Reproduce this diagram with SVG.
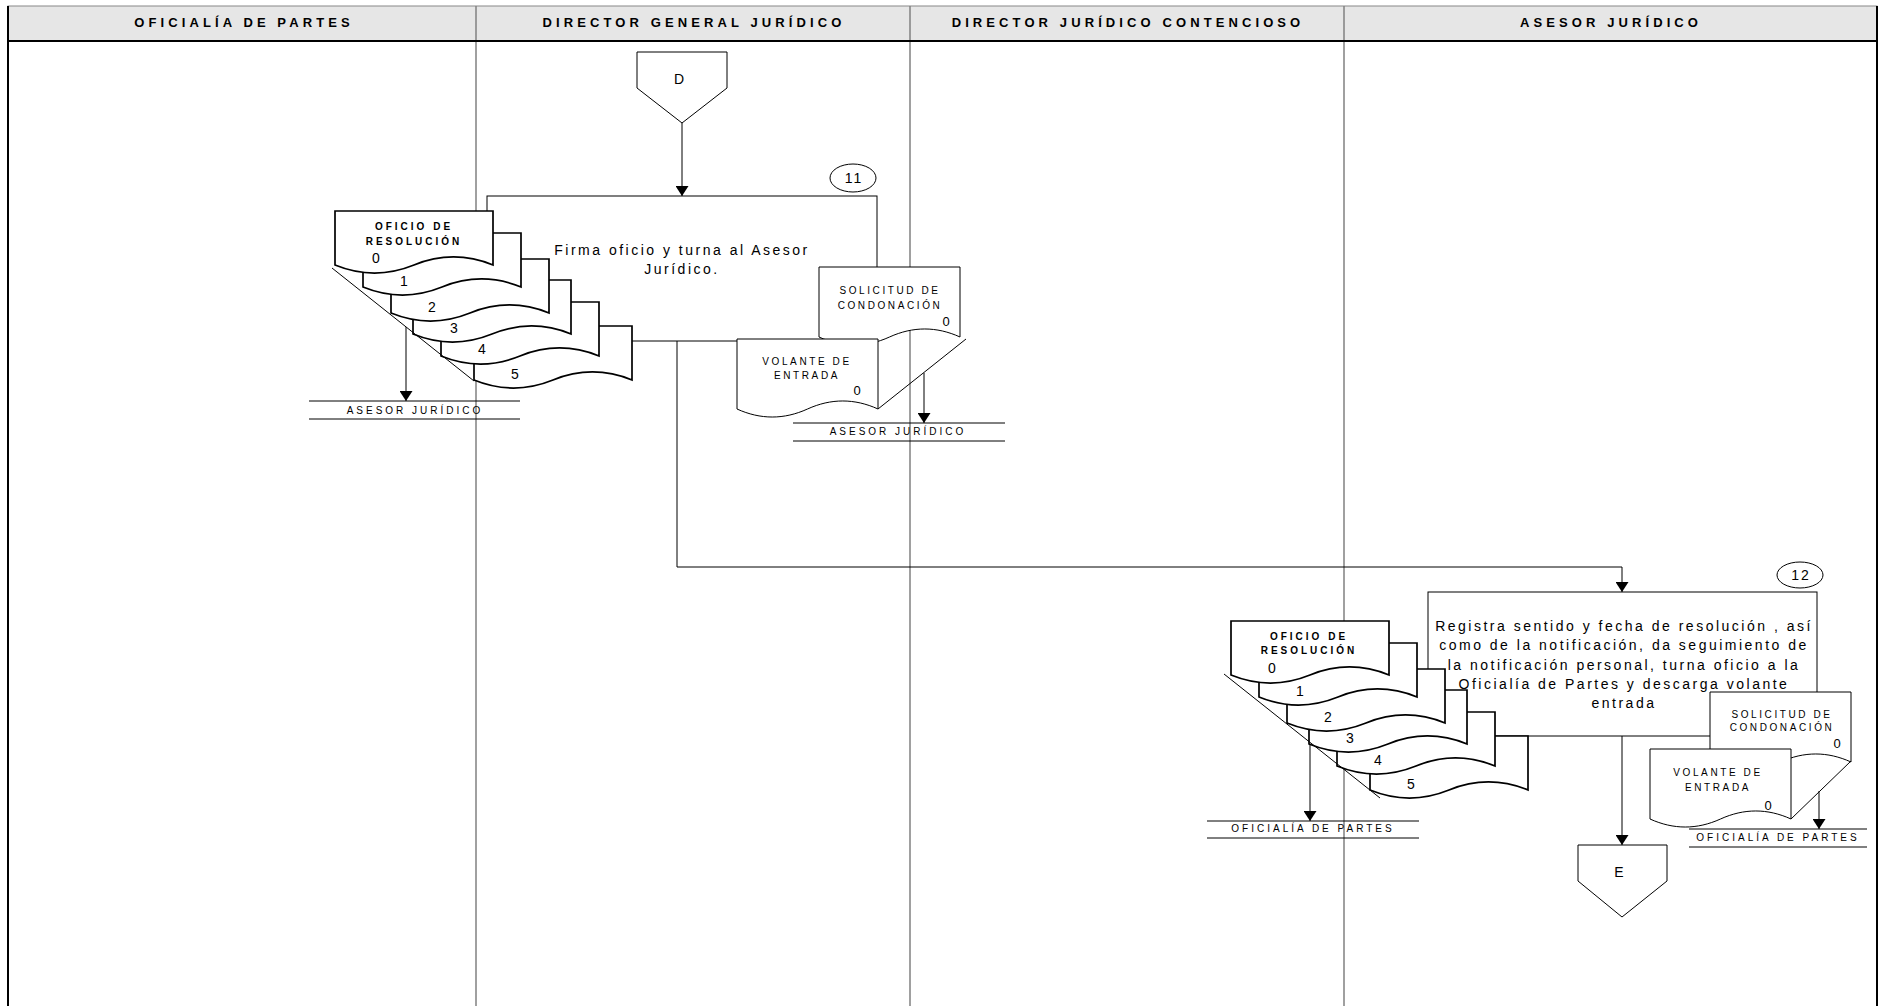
<svg xmlns="http://www.w3.org/2000/svg" width="1885" height="1006" viewBox="0 0 1885 1006">
<style>
text{font-family:"Liberation Sans",Arial,sans-serif;fill:#000}
.hd{font-size:13px;font-weight:bold;letter-spacing:4.1px;text-anchor:middle}
.lane{stroke:#808080;stroke-width:1.5;fill:none}
.box{fill:#fff;stroke:#000;stroke-width:1}
.doc{fill:#fff;stroke:#000;stroke-width:1.7}
.doc1{fill:#fff;stroke:#000;stroke-width:1}
.ln{stroke:#000;stroke-width:1;fill:none}
.task{font-size:14px;letter-spacing:2.5px;text-anchor:middle}
.dl{font-size:10px;font-weight:bold;letter-spacing:3px;text-anchor:middle}
.dr{font-size:10px;letter-spacing:2.6px;text-anchor:middle}
.num{font-size:14px;text-anchor:middle}
.num0{font-size:13px;text-anchor:middle}
.lab{font-size:10px;letter-spacing:3px;text-anchor:middle}
.cir{font-size:14px;letter-spacing:2px;text-anchor:middle}
.off{font-size:14px;text-anchor:middle}
.conn{stroke:#000;stroke-width:1;fill:none;marker-end:url(#arr)}
</style>
<defs>
<marker id="arr" viewBox="0 0 10 13" markerWidth="10" markerHeight="13" refX="10" refY="6.5" orient="auto" markerUnits="userSpaceOnUse">
<path d="M0,0 L10,6.5 L0,13 z" fill="#000"/>
</marker>
</defs>
<rect x="0" y="0" width="1885" height="1006" fill="#fff"/>
<g id="lanes">
<rect x="8" y="6" width="1869" height="35" fill="#e6e6e6" stroke="#888" stroke-width="1"/>
<line class="lane" x1="476" y1="6" x2="476" y2="1006"/>
<line class="lane" x1="910" y1="6" x2="910" y2="1006"/>
<line class="lane" x1="1344" y1="6" x2="1344" y2="1006"/>
<line x1="8" y1="41" x2="1877" y2="41" stroke="#000" stroke-width="2"/>
<line x1="8" y1="6" x2="8" y2="1006" stroke="#000" stroke-width="2"/>
<line x1="1877" y1="6" x2="1877" y2="1006" stroke="#000" stroke-width="2"/>
<text class="hd" x="244" y="27">OFICIALÍA DE PARTES</text>
<text class="hd" x="694" y="27">DIRECTOR GENERAL JURÍDICO</text>
<text class="hd" x="1128" y="27">DIRECTOR JURÍDICO CONTENCIOSO</text>
<text class="hd" x="1611" y="27">ASESOR JURÍDICO</text>
</g>
<g id="connectors">
<path class="conn" d="M682,123 V196"/>
<path class="conn" d="M677,341 V567 H1622 V592"/>
<path class="conn" d="M1622,736 V845"/>
<path class="conn" d="M406,327 V401"/>
<path class="conn" d="M924,373 V423"/>
<path class="conn" d="M1310,742 V821"/>
<path class="conn" d="M1819,791 V829"/>
</g>
<g id="offpage-D">
<path class="box" d="M637,52 H727 V88 L682,123 L637,88 Z"/>
<text class="off" x="679" y="84">D</text>
</g>
<g id="task-11">
<rect class="box" x="487" y="196" width="390" height="145"/>
<text class="task" x="682" y="255">Firma oficio y turna al Asesor</text>
<text class="task" x="682" y="274">Jurídico.</text>
<ellipse class="box" cx="853" cy="178" rx="23" ry="14"/>
<text class="cir" x="854" y="183">11</text>
</g>
<g id="docs-11-oficio">
<path class="doc" transform="translate(474,326)" d="M0,0 H158 V54 C131.7,43.3 105.3,43.3 79,54 C52.7,64.7 26.3,64.7 0,54 Z"/>
<text class="num" x="515" y="379">5</text>
<path class="doc" transform="translate(441,302)" d="M0,0 H158 V54 C131.7,43.3 105.3,43.3 79,54 C52.7,64.7 26.3,64.7 0,54 Z"/>
<text class="num" x="482" y="354">4</text>
<path class="doc" transform="translate(413,280)" d="M0,0 H158 V54 C131.7,43.3 105.3,43.3 79,54 C52.7,64.7 26.3,64.7 0,54 Z"/>
<text class="num" x="454" y="333">3</text>
<path class="doc" transform="translate(391,259)" d="M0,0 H158 V54 C131.7,43.3 105.3,43.3 79,54 C52.7,64.7 26.3,64.7 0,54 Z"/>
<text class="num" x="432" y="312">2</text>
<path class="doc" transform="translate(363,233)" d="M0,0 H158 V54 C131.7,43.3 105.3,43.3 79,54 C52.7,64.7 26.3,64.7 0,54 Z"/>
<text class="num" x="404" y="286">1</text>
<path class="doc" transform="translate(335,211)" d="M0,0 H158 V54 C131.7,43.3 105.3,43.3 79,54 C52.7,64.7 26.3,64.7 0,54 Z"/>
<text class="dl" x="414" y="230">OFICIO DE</text>
<text class="dl" x="414" y="245">RESOLUCIÓN</text>
<text class="num" x="376" y="263">0</text>
<line class="ln" x1="332" y1="268" x2="474" y2="381"/>
</g>
<g id="docs-11-solicitud">
<path class="doc1" transform="translate(819,267)" d="M0,0 H141 V70 C117.5,59.3 94,59.3 70.5,70 C47,80.7 23.5,80.7 0,70 Z"/>
<text class="dr" x="890" y="294">SOLICITUD DE</text>
<text class="dr" x="890" y="309">CONDONACIÓN</text>
<text class="num0" x="946" y="326">0</text>
<path class="doc1" transform="translate(737,339)" d="M0,0 H141 V70 C117.5,59.3 94,59.3 70.5,70 C47,80.7 23.5,80.7 0,70 Z"/>
<text class="dr" x="807" y="365">VOLANTE DE</text>
<text class="dr" x="807" y="379">ENTRADA</text>
<text class="num0" x="857" y="395">0</text>
<line class="ln" x1="966" y1="339" x2="878" y2="409"/>
</g>
<g id="dest-11-asesor-a">
<line class="ln" x1="309" y1="401" x2="520" y2="401"/>
<line class="ln" x1="309" y1="419" x2="520" y2="419"/>
<text class="lab" x="415" y="414">ASESOR JURÍDICO</text>
</g>
<g id="dest-11-asesor-b">
<line class="ln" x1="793" y1="423" x2="1005" y2="423"/>
<line class="ln" x1="793" y1="441" x2="1005" y2="441"/>
<text class="lab" x="898" y="435">ASESOR JURÍDICO</text>
</g>
<g id="task-12">
<rect class="box" x="1428" y="592" width="389" height="144"/>
<text class="task" x="1624" y="631">Registra sentido y fecha de resolución , así</text>
<text class="task" x="1624" y="650">como de la notificación, da seguimiento de</text>
<text class="task" x="1624" y="670">la notificación personal, turna oficio a la</text>
<text class="task" x="1624" y="689">Oficialía de Partes y descarga volante</text>
<text class="task" x="1624" y="708">entrada</text>
<ellipse class="box" cx="1800" cy="575" rx="23" ry="13"/>
<text class="cir" x="1801" y="580">12</text>
</g>
<g id="docs-12-oficio">
<path class="doc" transform="translate(1370,736)" d="M0,0 H158 V54 C131.7,43.3 105.3,43.3 79,54 C52.7,64.7 26.3,64.7 0,54 Z"/>
<text class="num" x="1411" y="789">5</text>
<path class="doc" transform="translate(1337,712)" d="M0,0 H158 V54 C131.7,43.3 105.3,43.3 79,54 C52.7,64.7 26.3,64.7 0,54 Z"/>
<text class="num" x="1378" y="765">4</text>
<path class="doc" transform="translate(1309,690)" d="M0,0 H158 V54 C131.7,43.3 105.3,43.3 79,54 C52.7,64.7 26.3,64.7 0,54 Z"/>
<text class="num" x="1350" y="743">3</text>
<path class="doc" transform="translate(1287,669)" d="M0,0 H158 V54 C131.7,43.3 105.3,43.3 79,54 C52.7,64.7 26.3,64.7 0,54 Z"/>
<text class="num" x="1328" y="722">2</text>
<path class="doc" transform="translate(1259,643)" d="M0,0 H158 V54 C131.7,43.3 105.3,43.3 79,54 C52.7,64.7 26.3,64.7 0,54 Z"/>
<text class="num" x="1300" y="696">1</text>
<path class="doc" transform="translate(1231,621)" d="M0,0 H158 V54 C131.7,43.3 105.3,43.3 79,54 C52.7,64.7 26.3,64.7 0,54 Z"/>
<text class="dl" x="1309" y="640">OFICIO DE</text>
<text class="dl" x="1309" y="654">RESOLUCIÓN</text>
<text class="num" x="1272" y="673">0</text>
<line class="ln" x1="1224" y1="674" x2="1380" y2="798"/>
</g>
<g id="docs-12-solicitud">
<path class="doc1" transform="translate(1710,692)" d="M0,0 H141 V70 C117.5,59.3 94,59.3 70.5,70 C47,80.7 23.5,80.7 0,70 Z"/>
<text class="dr" x="1782" y="718">SOLICITUD DE</text>
<text class="dr" x="1782" y="731">CONDONACIÓN</text>
<text class="num0" x="1837" y="748">0</text>
<path class="doc1" transform="translate(1650,749)" d="M0,0 H141 V70 C117.5,59.3 94,59.3 70.5,70 C47,80.7 23.5,80.7 0,70 Z"/>
<text class="dr" x="1718" y="776">VOLANTE DE</text>
<text class="dr" x="1718" y="791">ENTRADA</text>
<text class="num0" x="1768" y="810">0</text>
<line class="ln" x1="1851" y1="761" x2="1791" y2="819"/>
</g>
<g id="dest-12-oficialia-a">
<line class="ln" x1="1207" y1="821" x2="1419" y2="821"/>
<line class="ln" x1="1207" y1="838" x2="1419" y2="838"/>
<text class="lab" x="1313" y="832">OFICIALÍA DE PARTES</text>
</g>
<g id="dest-12-oficialia-b">
<line class="ln" x1="1689" y1="829" x2="1867" y2="829"/>
<line class="ln" x1="1689" y1="847" x2="1867" y2="847"/>
<text class="lab" x="1778" y="841">OFICIALÍA DE PARTES</text>
</g>
<g id="offpage-E">
<path class="box" d="M1578,845 H1667 V881 L1622,917 L1578,881 Z"/>
<text class="off" x="1619" y="877">E</text>
</g>
</svg>
